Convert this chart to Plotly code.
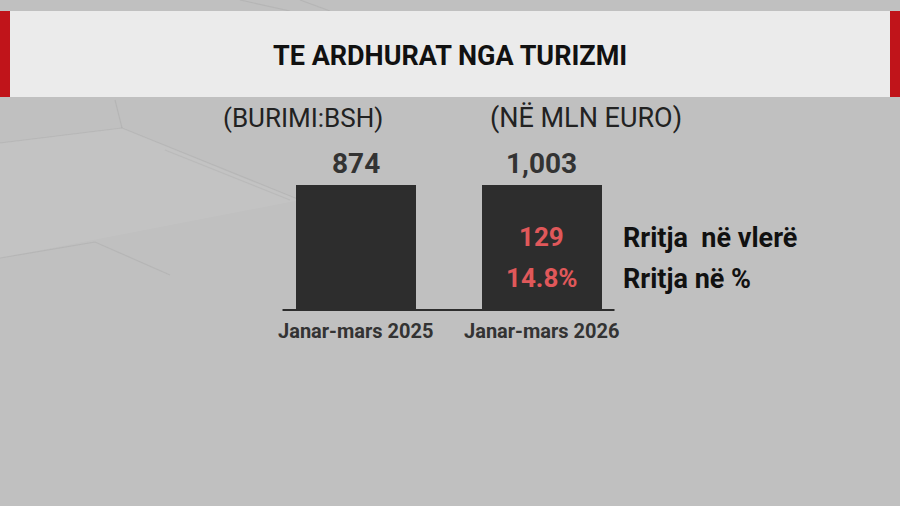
import plotly.graph_objects as go

# ---- data ----
categories = ["Janar-mars 2025", "Janar-mars 2026"]
values = [874, 1003]                 # mln euro
bar_heights = [1, 1]                 # the original graphic draws both bars at equal height
title_text = "TE ARDHURAT NGA TURIZMI"
source_text = "(BURIMI:BSH)"
unit_text = "(NË MLN EURO)"
growth_labels = ["Rritja  në vlerë", "Rritja në %"]

growth_value = values[1] - values[0]
growth_pct = growth_value / values[0] * 100

BG = "#c0c0c0"
BAR = "#2d2d2d"
RED_TXT = "#e0585a"
FONT = "Roboto"

x = list(range(len(categories)))
fig = go.Figure()
fig.add_trace(go.Bar(x=x, y=bar_heights, width=0.645, marker=dict(color=BAR, line=dict(width=0)),
                     hoverinfo="skip"))

shapes = []
# faint background geometry
for pts in [
    [(0, 143), (122, 128), (300, 200)],
    [(115, 100), (122, 128)],
    [(0, 258), (95, 242), (170, 275)],
    [(165, 150), (290, 200)],
    [(240, 0), (290, 11)],
    [(300, 0), (330, 11)],
]:
    path = "M " + " L ".join(f"{px/900:.4f},{1-py/506:.4f}" for px, py in pts)
    shapes.append(dict(type="path", xref="paper", yref="paper", path=path,
                       line=dict(color="rgba(150,150,150,0.25)", width=1.2), layer="below"))
shapes.append(dict(type="path", xref="paper", yref="paper",
                   path="M 0,{:.4f} L {:.4f},{:.4f} L {:.4f},{:.4f} L 0,{:.4f} Z".format(
                       1-143/506, 122/900, 1-128/506, 300/900, 1-200/506, 1-258/506),
                   fillcolor="rgba(255,255,255,0.06)", line=dict(width=0), layer="below"))
# title bar
shapes.append(dict(type="rect", xref="paper", yref="paper", x0=0, x1=1, y0=1-97/506, y1=1-11/506,
                   fillcolor="#ebebeb", line=dict(width=0), layer="below"))
shapes.append(dict(type="rect", xref="paper", yref="paper", x0=0, x1=10/900, y0=1-97/506, y1=1-11/506,
                   fillcolor="#c0141a", line=dict(width=0), layer="below"))
shapes.append(dict(type="rect", xref="paper", yref="paper", x0=890/900, x1=1, y0=1-97/506, y1=1-11/506,
                   fillcolor="#c0141a", line=dict(width=0), layer="below"))
# baseline
shapes.append(dict(type="line", xref="x", yref="y", x0=-0.395, x1=1.39, y0=0, y1=0,
                   line=dict(color=BAR, width=2)))

ann = []
ann.append(dict(xref="paper", yref="paper", x=0.5, y=1-56/506, yanchor="middle",
                text=f"<b>{title_text}</b>",
                showarrow=False, font=dict(family=FONT, size=27, color="#111111")))
ann.append(dict(xref="x", yref="paper", x=0, xshift=-53, y=1-118/506, yanchor="middle",
                text=source_text,
                showarrow=False, font=dict(family=FONT, size=26, color="#222222")))
ann.append(dict(xref="x", yref="paper", x=1, xshift=44, y=1-118/506, yanchor="middle",
                text=unit_text,
                showarrow=False, font=dict(family=FONT, size=27, color="#222222")))
for i, (c, v, h) in enumerate(zip(categories, values, bar_heights)):
    ann.append(dict(xref="x", yref="y", x=i, y=h, yshift=22, yanchor="middle", text=f"<b>{v:,}</b>",
                    showarrow=False, font=dict(family=FONT, size=28, color="#333333")))
    ann.append(dict(xref="x", yref="y", x=i, y=0, yshift=-21, yanchor="middle", text=f"<b>{c}</b>",
                    showarrow=False, font=dict(family=FONT, size=20, color="#333333")))
ann.append(dict(xref="x", yref="y", x=1, y=bar_heights[1], yshift=-52, yanchor="middle",
                text=f"<b>{growth_value}</b>",
                showarrow=False, font=dict(family=FONT, size=26, color=RED_TXT)))
ann.append(dict(xref="x", yref="y", x=1, y=bar_heights[1], yshift=-93, yanchor="middle",
                text=f"<b>{growth_pct:.1f}%</b>",
                showarrow=False, font=dict(family=FONT, size=26, color=RED_TXT)))
for j, t in enumerate(growth_labels):
    ann.append(dict(xref="paper", yref="y", x=621/900, xanchor="left", y=bar_heights[1],
                    yanchor="middle", yshift=-53 - 41 * j, text=f"<b>{t}</b>",
                    showarrow=False, font=dict(family=FONT, size=27, color="#111111")))

fig.update_layout(
    width=900, height=506, margin=dict(l=0, r=0, t=0, b=0),
    paper_bgcolor=BG, plot_bgcolor=BG, showlegend=False,
    xaxis=dict(range=[-1.914, 2.925], visible=False, fixedrange=True),
    yaxis=dict(range=[-1.568, 2.48], visible=False, fixedrange=True),
    shapes=shapes, annotations=ann, bargap=0,
)
fig.write_html("out.html", config={"displayModeBar": False})
